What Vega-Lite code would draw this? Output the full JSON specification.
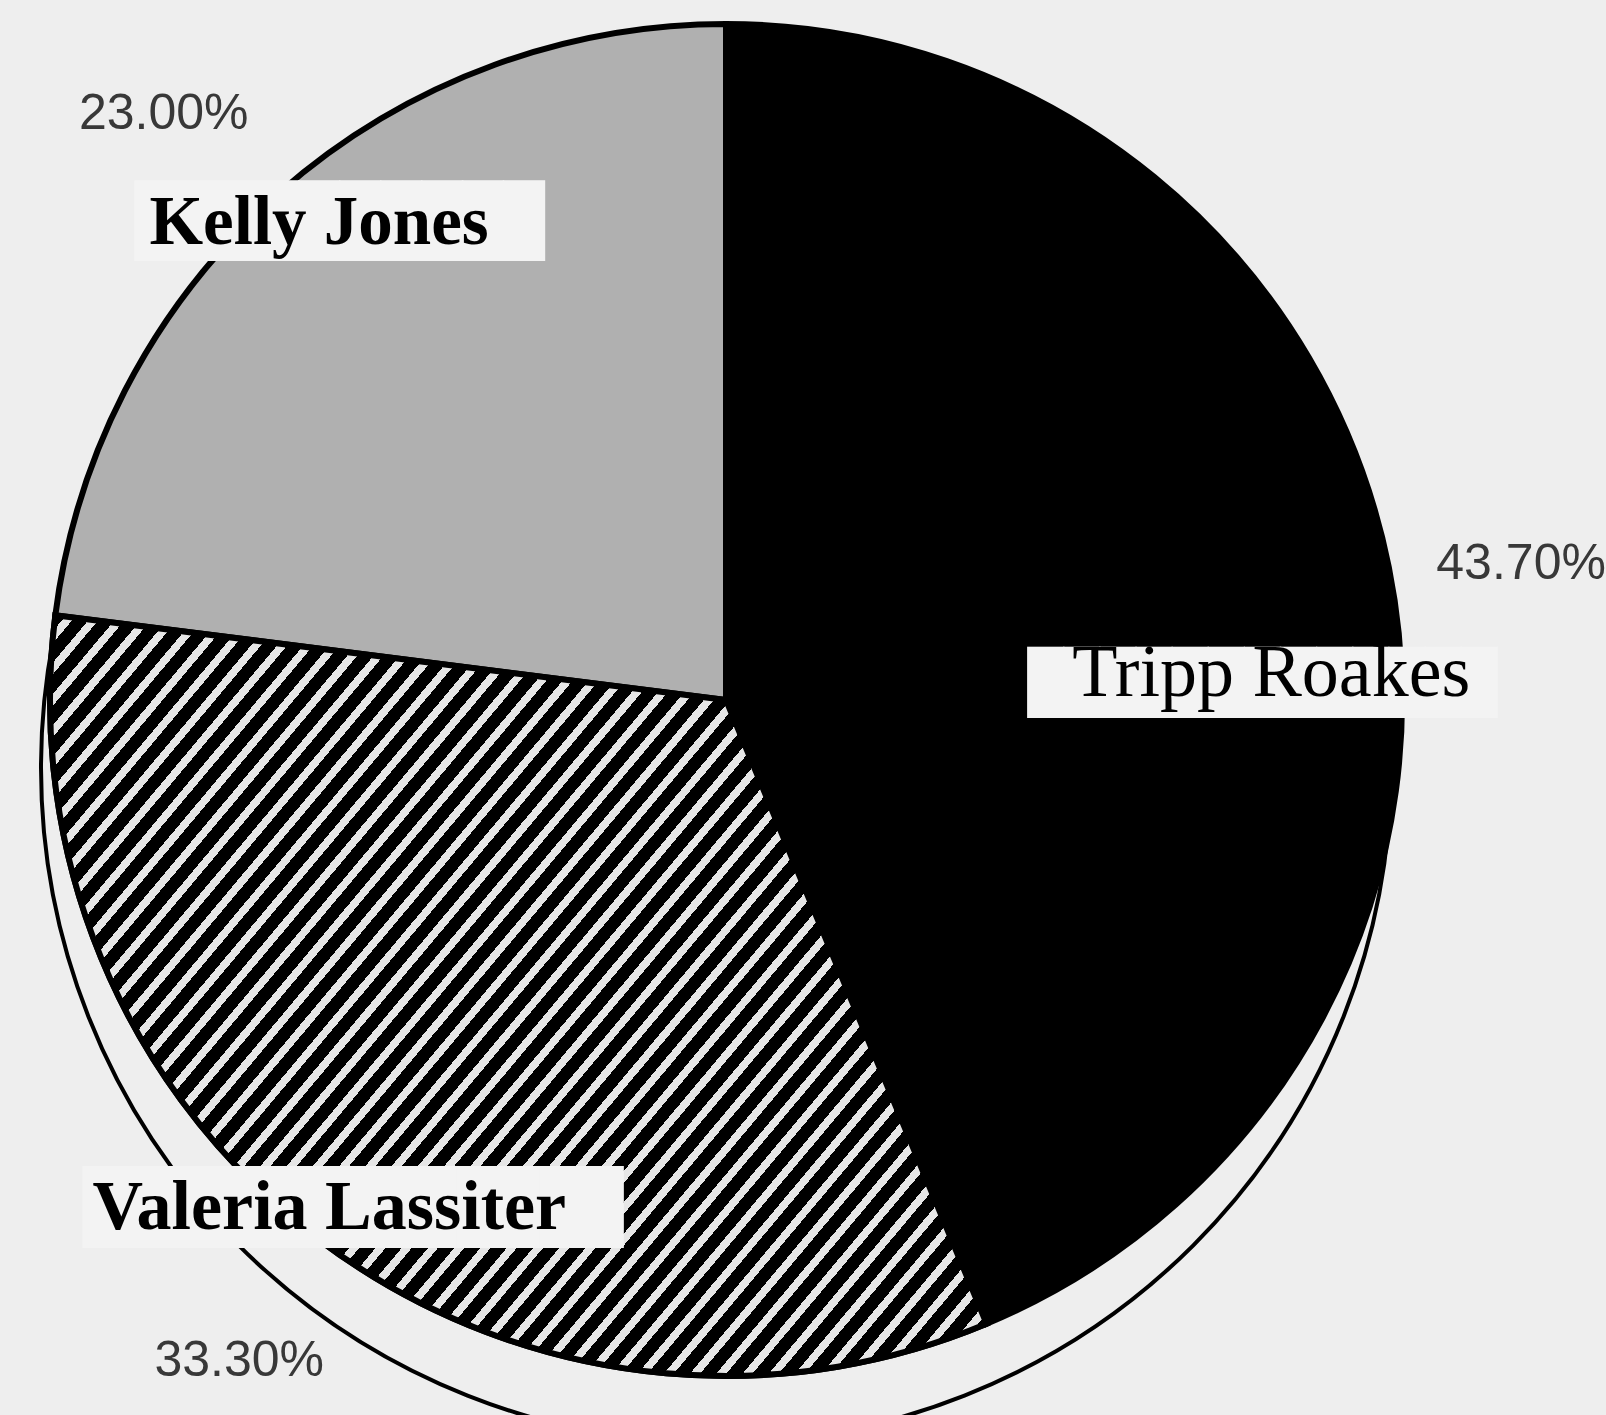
{
  "$schema": "https://vega.github.io/schema/vega-lite/v6.json",
  "width": 1452,
  "height": 1400,
  "autosize": {"type": "none"},
  "padding": {"left": 0, "top": 0, "right": 154, "bottom": 15},
  "background": "#eeeeee",
  "config": {"view": {"stroke": null}},
  "data": {"values": [
    {"name": "Tripp Roakes", "share": 0.437},
    {"name": "Valeria Lassiter", "share": 0.333},
    {"name": "Kelly Jones", "share": 0.23}
  ]},
  "layer": [
    {
      "transform": [{"aggregate": [{"op": "sum", "field": "share", "as": "total"}]}],
      "mark": {"type": "arc", "radius": 675, "fill": "transparent", "stroke": "#000", "strokeWidth": 4, "xOffset": -10, "yOffset": 68},
      "encoding": {"theta": {"field": "total", "type": "quantitative", "stack": true}}
    },
    {
      "mark": {"type": "arc", "radius": 676, "stroke": "#000", "strokeWidth": 6},
      "encoding": {
        "theta": {"field": "share", "type": "quantitative", "stack": true},
        "order": {"field": "share", "type": "quantitative", "sort": "descending"},
        "color": {"field": "name", "type": "nominal", "legend": null,
          "scale": {"domain": ["Tripp Roakes", "Valeria Lassiter", "Kelly Jones"], "range": ["#000000", "#000000", "#b0b0b0"]}}
      }
    },
    {
      "mark": {"type": "arc", "radius": 676, "stroke": "#000", "strokeWidth": 6,
        "fill": {"gradient": "linear", "x1": 0, "y1": 0, "x2": 1.1484, "y2": 0.7823, "stops": [
{"offset":0,"color":"#000"},{"offset":0.0103,"color":"#000"},{"offset":0.0103,"color":"#e6e6e6"},{"offset":0.0167,"color":"#e6e6e6"},
{"offset":0.0167,"color":"#000"},{"offset":0.027,"color":"#000"},{"offset":0.027,"color":"#e6e6e6"},{"offset":0.0333,"color":"#e6e6e6"},
{"offset":0.0333,"color":"#000"},{"offset":0.0437,"color":"#000"},{"offset":0.0437,"color":"#e6e6e6"},{"offset":0.05,"color":"#e6e6e6"},
{"offset":0.05,"color":"#000"},{"offset":0.0603,"color":"#000"},{"offset":0.0603,"color":"#e6e6e6"},{"offset":0.0667,"color":"#e6e6e6"},
{"offset":0.0667,"color":"#000"},{"offset":0.077,"color":"#000"},{"offset":0.077,"color":"#e6e6e6"},{"offset":0.0833,"color":"#e6e6e6"},
{"offset":0.0833,"color":"#000"},{"offset":0.0937,"color":"#000"},{"offset":0.0937,"color":"#e6e6e6"},{"offset":0.1,"color":"#e6e6e6"},
{"offset":0.1,"color":"#000"},{"offset":0.1103,"color":"#000"},{"offset":0.1103,"color":"#e6e6e6"},{"offset":0.1167,"color":"#e6e6e6"},
{"offset":0.1167,"color":"#000"},{"offset":0.127,"color":"#000"},{"offset":0.127,"color":"#e6e6e6"},{"offset":0.1333,"color":"#e6e6e6"},
{"offset":0.1333,"color":"#000"},{"offset":0.1437,"color":"#000"},{"offset":0.1437,"color":"#e6e6e6"},{"offset":0.15,"color":"#e6e6e6"},
{"offset":0.15,"color":"#000"},{"offset":0.1603,"color":"#000"},{"offset":0.1603,"color":"#e6e6e6"},{"offset":0.1667,"color":"#e6e6e6"},
{"offset":0.1667,"color":"#000"},{"offset":0.177,"color":"#000"},{"offset":0.177,"color":"#e6e6e6"},{"offset":0.1833,"color":"#e6e6e6"},
{"offset":0.1833,"color":"#000"},{"offset":0.1937,"color":"#000"},{"offset":0.1937,"color":"#e6e6e6"},{"offset":0.2,"color":"#e6e6e6"},
{"offset":0.2,"color":"#000"},{"offset":0.2103,"color":"#000"},{"offset":0.2103,"color":"#e6e6e6"},{"offset":0.2167,"color":"#e6e6e6"},
{"offset":0.2167,"color":"#000"},{"offset":0.227,"color":"#000"},{"offset":0.227,"color":"#e6e6e6"},{"offset":0.2333,"color":"#e6e6e6"},
{"offset":0.2333,"color":"#000"},{"offset":0.2437,"color":"#000"},{"offset":0.2437,"color":"#e6e6e6"},{"offset":0.25,"color":"#e6e6e6"},
{"offset":0.25,"color":"#000"},{"offset":0.2603,"color":"#000"},{"offset":0.2603,"color":"#e6e6e6"},{"offset":0.2667,"color":"#e6e6e6"},
{"offset":0.2667,"color":"#000"},{"offset":0.277,"color":"#000"},{"offset":0.277,"color":"#e6e6e6"},{"offset":0.2833,"color":"#e6e6e6"},
{"offset":0.2833,"color":"#000"},{"offset":0.2937,"color":"#000"},{"offset":0.2937,"color":"#e6e6e6"},{"offset":0.3,"color":"#e6e6e6"},
{"offset":0.3,"color":"#000"},{"offset":0.3103,"color":"#000"},{"offset":0.3103,"color":"#e6e6e6"},{"offset":0.3167,"color":"#e6e6e6"},
{"offset":0.3167,"color":"#000"},{"offset":0.327,"color":"#000"},{"offset":0.327,"color":"#e6e6e6"},{"offset":0.3333,"color":"#e6e6e6"},
{"offset":0.3333,"color":"#000"},{"offset":0.3437,"color":"#000"},{"offset":0.3437,"color":"#e6e6e6"},{"offset":0.35,"color":"#e6e6e6"},
{"offset":0.35,"color":"#000"},{"offset":0.3603,"color":"#000"},{"offset":0.3603,"color":"#e6e6e6"},{"offset":0.3667,"color":"#e6e6e6"},
{"offset":0.3667,"color":"#000"},{"offset":0.377,"color":"#000"},{"offset":0.377,"color":"#e6e6e6"},{"offset":0.3833,"color":"#e6e6e6"},
{"offset":0.3833,"color":"#000"},{"offset":0.3937,"color":"#000"},{"offset":0.3937,"color":"#e6e6e6"},{"offset":0.4,"color":"#e6e6e6"},
{"offset":0.4,"color":"#000"},{"offset":0.4103,"color":"#000"},{"offset":0.4103,"color":"#e6e6e6"},{"offset":0.4167,"color":"#e6e6e6"},
{"offset":0.4167,"color":"#000"},{"offset":0.427,"color":"#000"},{"offset":0.427,"color":"#e6e6e6"},{"offset":0.4333,"color":"#e6e6e6"},
{"offset":0.4333,"color":"#000"},{"offset":0.4437,"color":"#000"},{"offset":0.4437,"color":"#e6e6e6"},{"offset":0.45,"color":"#e6e6e6"},
{"offset":0.45,"color":"#000"},{"offset":0.4603,"color":"#000"},{"offset":0.4603,"color":"#e6e6e6"},{"offset":0.4667,"color":"#e6e6e6"},
{"offset":0.4667,"color":"#000"},{"offset":0.477,"color":"#000"},{"offset":0.477,"color":"#e6e6e6"},{"offset":0.4833,"color":"#e6e6e6"},
{"offset":0.4833,"color":"#000"},{"offset":0.4937,"color":"#000"},{"offset":0.4937,"color":"#e6e6e6"},{"offset":0.5,"color":"#e6e6e6"},
{"offset":0.5,"color":"#000"},{"offset":0.5103,"color":"#000"},{"offset":0.5103,"color":"#e6e6e6"},{"offset":0.5167,"color":"#e6e6e6"},
{"offset":0.5167,"color":"#000"},{"offset":0.527,"color":"#000"},{"offset":0.527,"color":"#e6e6e6"},{"offset":0.5333,"color":"#e6e6e6"},
{"offset":0.5333,"color":"#000"},{"offset":0.5437,"color":"#000"},{"offset":0.5437,"color":"#e6e6e6"},{"offset":0.55,"color":"#e6e6e6"},
{"offset":0.55,"color":"#000"},{"offset":0.5603,"color":"#000"},{"offset":0.5603,"color":"#e6e6e6"},{"offset":0.5667,"color":"#e6e6e6"},
{"offset":0.5667,"color":"#000"},{"offset":0.577,"color":"#000"},{"offset":0.577,"color":"#e6e6e6"},{"offset":0.5833,"color":"#e6e6e6"},
{"offset":0.5833,"color":"#000"},{"offset":0.5937,"color":"#000"},{"offset":0.5937,"color":"#e6e6e6"},{"offset":0.6,"color":"#e6e6e6"},
{"offset":0.6,"color":"#000"},{"offset":0.6103,"color":"#000"},{"offset":0.6103,"color":"#e6e6e6"},{"offset":0.6167,"color":"#e6e6e6"},
{"offset":0.6167,"color":"#000"},{"offset":0.627,"color":"#000"},{"offset":0.627,"color":"#e6e6e6"},{"offset":0.6333,"color":"#e6e6e6"},
{"offset":0.6333,"color":"#000"},{"offset":0.6437,"color":"#000"},{"offset":0.6437,"color":"#e6e6e6"},{"offset":0.65,"color":"#e6e6e6"},
{"offset":0.65,"color":"#000"},{"offset":0.6603,"color":"#000"},{"offset":0.6603,"color":"#e6e6e6"},{"offset":0.6667,"color":"#e6e6e6"},
{"offset":0.6667,"color":"#000"},{"offset":0.677,"color":"#000"},{"offset":0.677,"color":"#e6e6e6"},{"offset":0.6833,"color":"#e6e6e6"},
{"offset":0.6833,"color":"#000"},{"offset":0.6937,"color":"#000"},{"offset":0.6937,"color":"#e6e6e6"},{"offset":0.7,"color":"#e6e6e6"},
{"offset":0.7,"color":"#000"},{"offset":0.7103,"color":"#000"},{"offset":0.7103,"color":"#e6e6e6"},{"offset":0.7167,"color":"#e6e6e6"},
{"offset":0.7167,"color":"#000"},{"offset":0.727,"color":"#000"},{"offset":0.727,"color":"#e6e6e6"},{"offset":0.7333,"color":"#e6e6e6"},
{"offset":0.7333,"color":"#000"},{"offset":0.7437,"color":"#000"},{"offset":0.7437,"color":"#e6e6e6"},{"offset":0.75,"color":"#e6e6e6"},
{"offset":0.75,"color":"#000"},{"offset":0.7603,"color":"#000"},{"offset":0.7603,"color":"#e6e6e6"},{"offset":0.7667,"color":"#e6e6e6"},
{"offset":0.7667,"color":"#000"},{"offset":0.777,"color":"#000"},{"offset":0.777,"color":"#e6e6e6"},{"offset":0.7833,"color":"#e6e6e6"},
{"offset":0.7833,"color":"#000"},{"offset":0.7937,"color":"#000"},{"offset":0.7937,"color":"#e6e6e6"},{"offset":0.8,"color":"#e6e6e6"},
{"offset":0.8,"color":"#000"},{"offset":0.8103,"color":"#000"},{"offset":0.8103,"color":"#e6e6e6"},{"offset":0.8167,"color":"#e6e6e6"},
{"offset":0.8167,"color":"#000"},{"offset":0.827,"color":"#000"},{"offset":0.827,"color":"#e6e6e6"},{"offset":0.8333,"color":"#e6e6e6"},
{"offset":0.8333,"color":"#000"},{"offset":0.8437,"color":"#000"},{"offset":0.8437,"color":"#e6e6e6"},{"offset":0.85,"color":"#e6e6e6"},
{"offset":0.85,"color":"#000"},{"offset":0.8603,"color":"#000"},{"offset":0.8603,"color":"#e6e6e6"},{"offset":0.8667,"color":"#e6e6e6"},
{"offset":0.8667,"color":"#000"},{"offset":0.877,"color":"#000"},{"offset":0.877,"color":"#e6e6e6"},{"offset":0.8833,"color":"#e6e6e6"},
{"offset":0.8833,"color":"#000"},{"offset":0.8937,"color":"#000"},{"offset":0.8937,"color":"#e6e6e6"},{"offset":0.9,"color":"#e6e6e6"},
{"offset":0.9,"color":"#000"},{"offset":0.9103,"color":"#000"},{"offset":0.9103,"color":"#e6e6e6"},{"offset":0.9167,"color":"#e6e6e6"},
{"offset":0.9167,"color":"#000"},{"offset":0.927,"color":"#000"},{"offset":0.927,"color":"#e6e6e6"},{"offset":0.9333,"color":"#e6e6e6"},
{"offset":0.9333,"color":"#000"},{"offset":0.9437,"color":"#000"},{"offset":0.9437,"color":"#e6e6e6"},{"offset":0.95,"color":"#e6e6e6"},
{"offset":0.95,"color":"#000"},{"offset":0.9603,"color":"#000"},{"offset":0.9603,"color":"#e6e6e6"},{"offset":0.9667,"color":"#e6e6e6"},
{"offset":0.9667,"color":"#000"},{"offset":0.977,"color":"#000"},{"offset":0.977,"color":"#e6e6e6"},{"offset":0.9833,"color":"#e6e6e6"},
{"offset":0.9833,"color":"#000"},{"offset":0.9937,"color":"#000"},{"offset":0.9937,"color":"#e6e6e6"},{"offset":1,"color":"#e6e6e6"}
        ]}},
      "encoding": {
        "theta": {"field": "share", "type": "quantitative", "stack": true},
        "order": {"field": "share", "type": "quantitative", "sort": "descending"},
        "opacity": {"condition": {"test": "datum.name === 'Valeria Lassiter'", "value": 1}, "value": 0}
      }
    },
    {
      "mark": {"type": "text", "radius": 629, "font": "DejaVu Sans Mono", "fontSize": 68, "color": "#f3f3f3", "align": "center", "baseline": "middle", "dx": 30, "dy": -4},
      "encoding": {
        "theta": {"field": "share", "type": "quantitative", "stack": true},
        "order": {"field": "share", "type": "quantitative", "sort": "descending"},
        "text": {"condition": {"test": "datum.name === 'Kelly Jones'", "value": "██████████"}, "value": ""}
      }
    },
    {
      "mark": {"type": "text", "radius": 549, "font": "DejaVu Sans Mono", "fontSize": 60, "color": "#f3f3f3", "align": "center", "baseline": "middle", "dx": -2, "dy": 93},
      "encoding": {
        "theta": {"field": "share", "type": "quantitative", "stack": true},
        "order": {"field": "share", "type": "quantitative", "sort": "descending"},
        "text": {"condition": {"test": "datum.name === 'Tripp Roakes'", "value": "█████████████"}, "value": ""}
      }
    },
    {
      "mark": {"type": "text", "radius": 642, "font": "DejaVu Sans Mono", "fontSize": 69, "color": "#f3f3f3", "align": "center", "baseline": "middle", "dx": 16, "dy": -1},
      "encoding": {
        "theta": {"field": "share", "type": "quantitative", "stack": true},
        "order": {"field": "share", "type": "quantitative", "sort": "descending"},
        "text": {"condition": {"test": "datum.name === 'Valeria Lassiter'", "value": "█████████████"}, "value": ""}
      }
    },
    {
      "mark": {"type": "text", "radius": 629, "font": "Liberation Serif", "fontWeight": "bold", "fontSize": 69, "color": "#000", "align": "center", "baseline": "middle", "dx": 9, "dy": -5},
      "encoding": {
        "theta": {"field": "share", "type": "quantitative", "stack": true},
        "order": {"field": "share", "type": "quantitative", "sort": "descending"},
        "text": {"condition": {"test": "datum.name === 'Kelly Jones'", "field": "name"}, "value": ""}
      }
    },
    {
      "mark": {"type": "text", "radius": 549, "font": "Liberation Serif", "fontSize": 74, "color": "#000", "align": "center", "baseline": "middle", "dx": 7, "dy": 82},
      "encoding": {
        "theta": {"field": "share", "type": "quantitative", "stack": true},
        "order": {"field": "share", "type": "quantitative", "sort": "descending"},
        "text": {"condition": {"test": "datum.name === 'Tripp Roakes'", "field": "name"}, "value": ""}
      }
    },
    {
      "mark": {"type": "text", "radius": 642, "font": "Liberation Serif", "fontWeight": "bold", "fontSize": 70, "color": "#000", "align": "center", "baseline": "middle", "dx": -8, "dy": -3},
      "encoding": {
        "theta": {"field": "share", "type": "quantitative", "stack": true},
        "order": {"field": "share", "type": "quantitative", "sort": "descending"},
        "text": {"condition": {"test": "datum.name === 'Valeria Lassiter'", "field": "name"}, "value": ""}
      }
    },
    {
      "mark": {"type": "text", "radius": 814, "font": "Liberation Sans", "fontSize": 50, "color": "#383838", "align": "center", "baseline": "middle", "dx": -24, "dy": 25},
      "encoding": {
        "theta": {"field": "share", "type": "quantitative", "stack": true},
        "order": {"field": "share", "type": "quantitative", "sort": "descending"},
        "text": {"condition": {"test": "datum.name === 'Kelly Jones'", "field": "share", "type": "quantitative", "format": ".2%"}, "value": ""}
      }
    },
    {
      "mark": {"type": "text", "radius": 814, "font": "Liberation Sans", "fontSize": 50, "color": "#383838", "align": "center", "baseline": "middle", "dx": -3, "dy": 24},
      "encoding": {
        "theta": {"field": "share", "type": "quantitative", "stack": true},
        "order": {"field": "share", "type": "quantitative", "sort": "descending"},
        "text": {"condition": {"test": "datum.name === 'Tripp Roakes'", "field": "share", "type": "quantitative", "format": ".2%"}, "value": ""}
      }
    },
    {
      "mark": {"type": "text", "radius": 814, "font": "Liberation Sans", "fontSize": 50, "color": "#383838", "align": "center", "baseline": "middle", "dx": 6, "dy": 13},
      "encoding": {
        "theta": {"field": "share", "type": "quantitative", "stack": true},
        "order": {"field": "share", "type": "quantitative", "sort": "descending"},
        "text": {"condition": {"test": "datum.name === 'Valeria Lassiter'", "field": "share", "type": "quantitative", "format": ".2%"}, "value": ""}
      }
    }
  ]
}
